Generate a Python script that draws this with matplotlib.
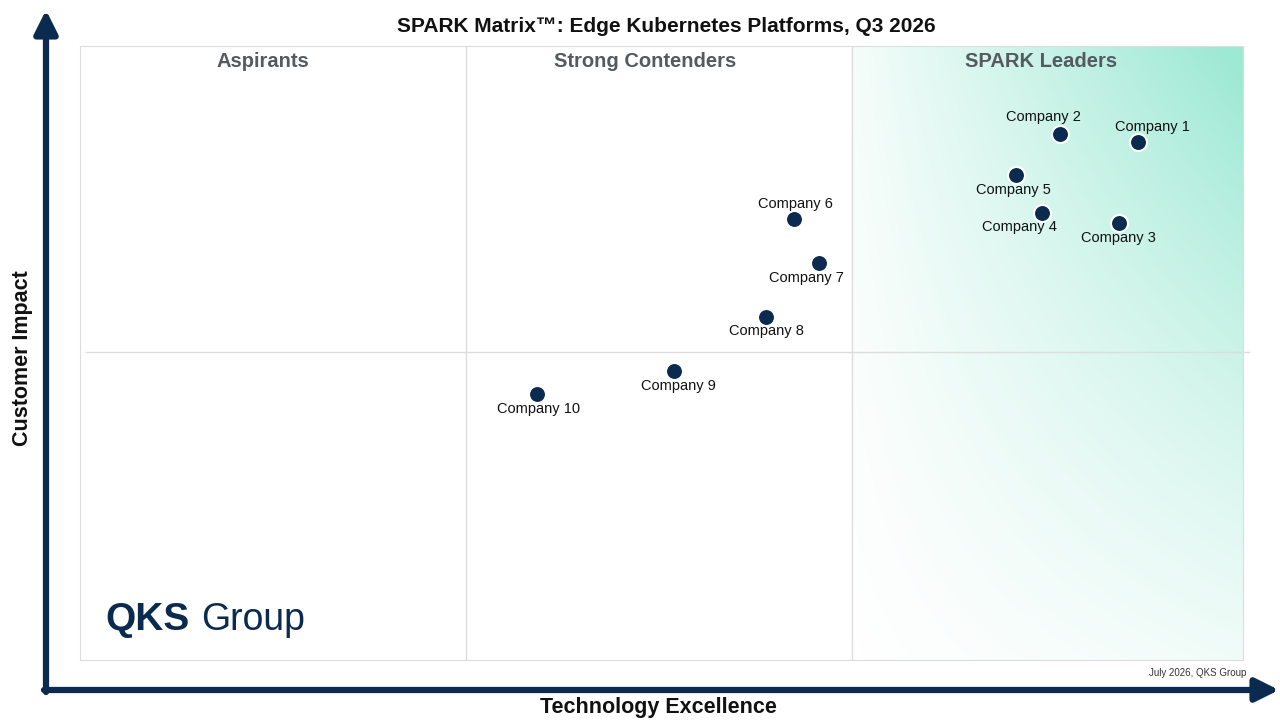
import matplotlib
matplotlib.use("Agg")
import matplotlib.pyplot as plt
import numpy as np

plt.rcParams['font.family'] = ['Liberation Sans', 'DejaVu Sans']
navy = "#0b2a4f"

companies = ["Company 1", "Company 2", "Company 3", "Company 4", "Company 5",
             "Company 6", "Company 7", "Company 8", "Company 9", "Company 10"]
tech = [91.0, 84.3, 89.3, 82.7, 80.5, 61.4, 63.5, 59.0, 51.1, 39.3]
impact = [84.4, 85.7, 71.2, 72.8, 79.0, 71.8, 64.7, 55.9, 47.1, 43.3]
# label offsets in points (dx, dy)
offsets = [(10, 11), (-12, 12), (0, -11), (-16, -10), (-2, -11),
           (1, 11), (-9, -11), (0, -10), (3, -11), (1, -11)]

fig = plt.figure(figsize=(12.8, 7.2), dpi=100)
ax = fig.add_axes([80/1280, 60/720, 1163/1280, 614/720])
ax.set_xlim(0, 100)
ax.set_ylim(0, 100)

# leaders gradient
gx, gy = np.meshgrid(np.linspace(0, 1, 200), np.linspace(0, 1, 300))
alpha = np.clip(0.15 * gx + 0.55 * gx * gy + 0.25 * gy ** 2 * gx + 0.1 * gy, 0, 1)
alpha = np.clip(alpha * 0.85, 0, 1)
img = np.zeros((300, 200, 4))
img[..., 0] = 0.55
img[..., 1] = 0.90
img[..., 2] = 0.80
img[..., 3] = alpha
ax.imshow(img, extent=[66.4, 100, 0, 100], origin="lower", aspect="auto", zorder=0)

for s in ax.spines.values():
    s.set_color("#dddddd")
ax.set_xticks([])
ax.set_yticks([])
ax.axvline(33.2, color="#dddddd", lw=1)
ax.axvline(66.4, color="#dddddd", lw=1)
ax.plot([0.5, 100.5], [50.2, 50.2], color="#dddddd", lw=1, clip_on=False)

for x, t in [(15.7, "Aspirants"), (48.6, "Strong Contenders"), (82.6, "SPARK Leaders")]:
    ax.text(x, 97.5, t, ha="center", va="center", fontsize=14.5, fontweight="bold", color="#555a60")

ax.scatter(tech, impact, s=150, color=navy, edgecolors="white", linewidths=1.5, zorder=3)
for name, x, y, (dx, dy) in zip(companies, tech, impact, offsets):
    ax.annotate(name, (x, y), xytext=(dx, dy), textcoords="offset points",
                ha="center", va="center", fontsize=10.5, color="#111111")

fig.text(666/1280, 1 - 27/720, "SPARK Matrix\u2122: Edge Kubernetes Platforms, Q3 2026",
         ha="center", va="center", fontsize=15, fontweight="bold", color="#111111")

# axis arrows
fig.patches.append(matplotlib.patches.FancyArrowPatch(
    (46/1280, 1 - 692/720), (46/1280, 1 - 10/720), transform=fig.transFigure,
    arrowstyle="-|>,head_length=14,head_width=7", color=navy, lw=4.5, shrinkA=0, shrinkB=0))
fig.patches.append(matplotlib.patches.FancyArrowPatch(
    (44/1280, 1 - 690/720), (1279/1280, 1 - 690/720), transform=fig.transFigure,
    arrowstyle="-|>,head_length=14,head_width=7", color=navy, lw=4.5, shrinkA=0, shrinkB=0))
fig.text(658/1280, 1 - 708/720, "Technology Excellence", ha="center", va="center",
         fontsize=15.5, fontweight="bold", color="#111111")
fig.text(23/1280, 1 - 358/720, "Customer Impact", ha="center", va="center", rotation=90,
         fontsize=15.5, fontweight="bold", color="#111111")
fig.text(1246/1280, 1 - 673/720, "July 2026, QKS Group", ha="right", va="center",
         fontsize=7, color="#333333")

# logo
fig.text(105/1280, 1 - 620/720, "QKS", ha="left", va="center", fontsize=28,
         fontweight="bold", color=navy)
fig.text(201/1280, 1 - 620/720, "Group", ha="left", va="center", fontsize=27, color=navy)

fig.savefig("out.png", dpi=100)
